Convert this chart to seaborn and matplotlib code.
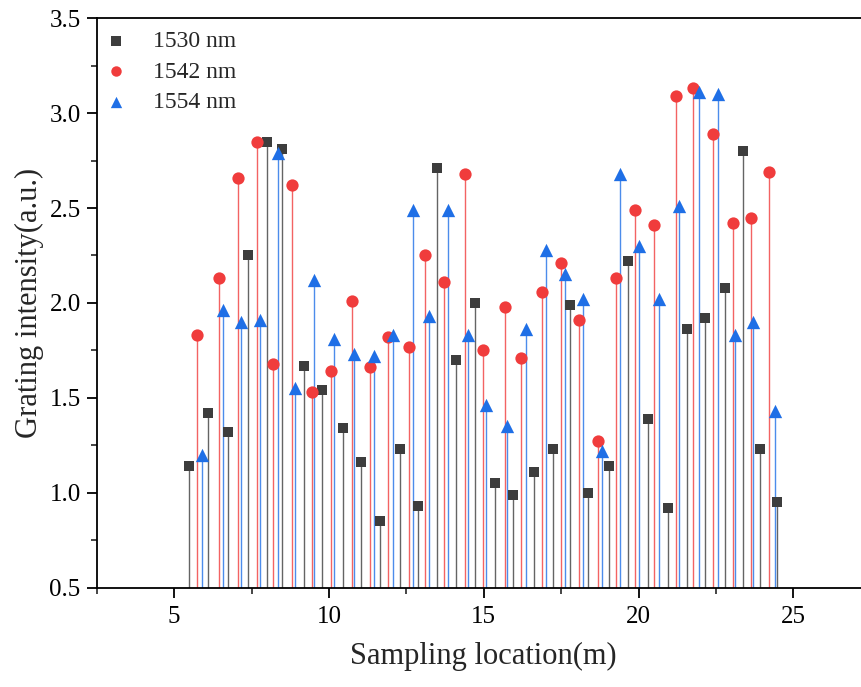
import matplotlib
matplotlib.use("Agg")
import matplotlib.pyplot as plt
from matplotlib.ticker import MultipleLocator, FormatStrFormatter
import pandas as pd
import seaborn as sns

# sampling positions (m) and grating intensity (a.u.)
x_1530 = [5.49, 6.08, 6.73, 7.37, 7.99, 8.50, 9.19, 9.79, 10.45, 11.04, 11.66,
          12.30, 12.87, 13.48, 14.10, 14.72, 15.36, 15.96, 16.61, 17.25, 17.77,
          18.38, 19.05, 19.66, 20.29, 20.94, 21.56, 22.16, 22.78, 23.38, 23.92,
          24.48]
y_1530 = [1.14, 1.42, 1.32, 2.25, 2.85, 2.81, 1.67, 1.54, 1.34, 1.16, 0.85,
          1.23, 0.93, 2.71, 1.70, 2.00, 1.05, 0.99, 1.11, 1.23, 1.99, 1.00,
          1.14, 2.22, 1.39, 0.92, 1.86, 1.92, 2.08, 2.80, 1.23, 0.95]

x_1542 = [5.75, 6.44, 7.05, 7.68, 8.19, 8.82, 9.46, 10.08, 10.74, 11.33, 11.90,
          12.57, 13.10, 13.73, 14.38, 14.98, 15.69, 16.20, 16.89, 17.49, 18.09,
          18.70, 19.27, 19.89, 20.51, 21.22, 21.77, 22.39, 23.06, 23.62, 24.20]
y_1542 = [1.83, 2.13, 2.66, 2.85, 1.68, 2.62, 1.53, 1.64, 2.01, 1.66, 1.82,
          1.77, 2.25, 2.11, 2.68, 1.75, 1.98, 1.71, 2.06, 2.21, 1.91, 1.27,
          2.13, 2.49, 2.41, 3.09, 3.13, 2.89, 2.42, 2.45, 2.69]

x_1554 = [5.89, 6.57, 7.17, 7.78, 8.37, 8.91, 9.53, 10.15, 10.82, 11.44, 12.07,
          12.71, 13.23, 13.84, 14.48, 15.06, 15.75, 16.35, 17.01, 17.61, 18.21,
          18.81, 19.39, 20.02, 20.65, 21.31, 21.94, 22.57, 23.10, 23.71, 24.40]
y_1554 = [1.20, 1.96, 1.90, 1.91, 2.79, 1.55, 2.12, 1.81, 1.73, 1.72, 1.83,
          2.49, 1.93, 2.49, 1.83, 1.46, 1.35, 1.86, 2.28, 2.15, 2.02, 1.22,
          2.68, 2.30, 2.02, 2.51, 3.11, 3.10, 1.83, 1.90, 1.43]

labels = ["1530 nm", "1542 nm", "1554 nm"]

series = [
    (labels[0], x_1530, y_1530, "#3d3d3d", "s", 62),
    (labels[1], x_1542, y_1542, "#f03c3c", "o", 78),
    (labels[2], x_1554, y_1554, "#1f6fe6", "^", 92),
]

sns.set_theme(style="ticks")
plt.rcParams["font.family"] = ["Liberation Serif", "DejaVu Serif"]

fig = plt.figure(figsize=(8.62, 6.87), dpi=100)
ax = fig.add_axes([0.1122, 0.1448, 0.898, 0.8286])

ymin = 0.5
for name, xs, ys, color, marker, size in series:
    ax.vlines(xs, ymin, ys, colors=color, linewidth=1.0, alpha=0.8, zorder=1)

for name, xs, ys, color, marker, size in series:
    df = pd.DataFrame({"x": xs, "y": ys})
    sns.scatterplot(data=df, x="x", y="y", ax=ax, color=color, marker=marker,
                    s=size, linewidth=0, label=name, zorder=3)

ax.set_xlim(2.5, 27.5)
ax.set_ylim(0.5, 3.5)
ax.xaxis.set_major_locator(MultipleLocator(5))
ax.xaxis.set_minor_locator(MultipleLocator(2.5))
ax.yaxis.set_major_locator(MultipleLocator(0.5))
ax.yaxis.set_minor_locator(MultipleLocator(0.25))
ax.yaxis.set_major_formatter(FormatStrFormatter("%.1f"))

for side in ["left", "bottom", "top", "right"]:
    ax.spines[side].set_visible(True)
    ax.spines[side].set_linewidth(1.3)
    ax.spines[side].set_color("black")

ax.tick_params(which="major", direction="out", length=7.5, width=1.3,
               labelsize=18, colors="black", top=False, right=False)
ax.tick_params(which="minor", direction="out", length=4, width=1.2,
               top=False, right=False)
ax.tick_params(axis="y", which="major", pad=4)
ax.tick_params(axis="x", which="major", pad=6)

ax.set_xlabel("Sampling location(m)", fontsize=22, labelpad=10)
ax.set_ylabel("Grating intensity(a.u.)", fontsize=22, labelpad=4)

handles, names = ax.get_legend_handles_labels()
ax.legend(handles, names, loc="upper left", frameon=False, fontsize=17,
          markerscale=0.85, handlelength=0.6, handletextpad=1.25,
          labelspacing=0.37, borderaxespad=0.1, borderpad=0.43)

fig.savefig("out.png", dpi=100)
plt.close(fig)
